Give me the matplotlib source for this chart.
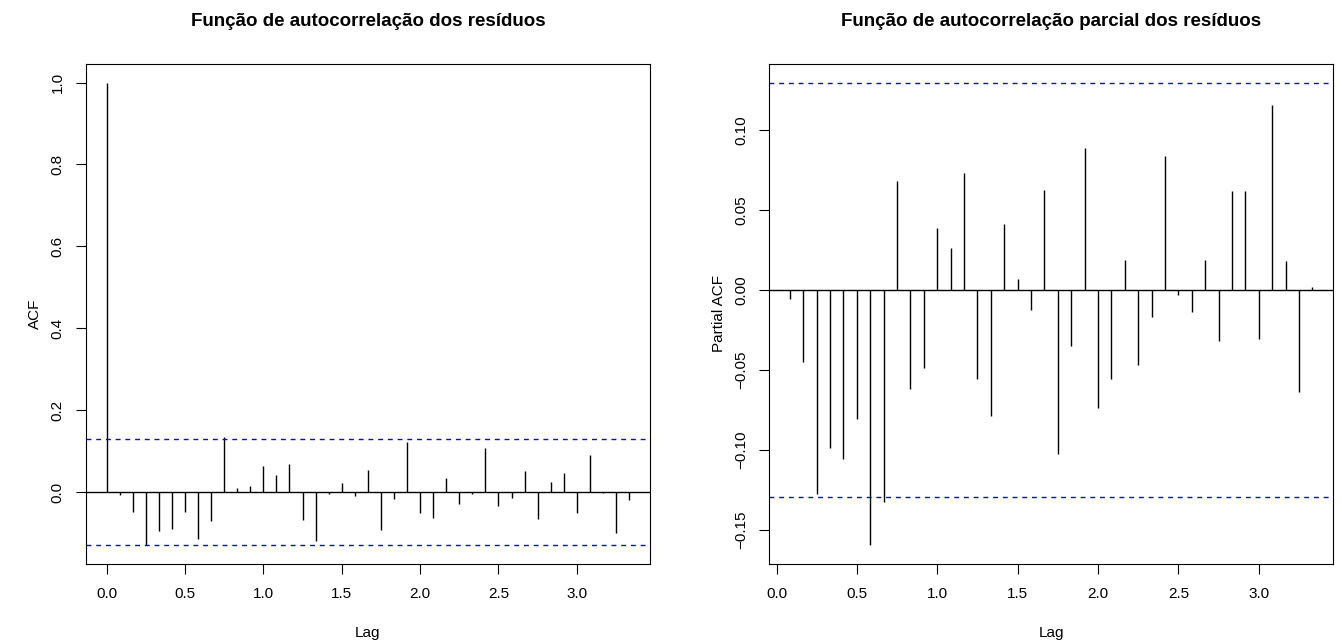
import numpy as np
import matplotlib
matplotlib.use("Agg")
import matplotlib.pyplot as plt

plt.rcParams['font.family'] = ['Liberation Sans', 'DejaVu Sans']

# ACF of residuals, lags 0..40 (monthly series -> lag in years)
acf_values = [1.0, -0.007, -0.047, -0.129, -0.095, -0.090, -0.049, -0.114, -0.069,
              0.136, 0.011, 0.016, 0.063, 0.041, 0.070, -0.067, -0.120, -0.004,
              0.022, -0.009, 0.055, -0.093, -0.017, 0.123, -0.051, -0.062, 0.034,
              -0.029, -0.005, 0.107, -0.034, -0.013, 0.052, -0.065, 0.025, 0.048,
              -0.051, 0.092, -0.002, -0.100, -0.019]
# PACF of residuals, lags 1..40
pacf_values = [-0.006, -0.045, -0.128, -0.099, -0.106, -0.081, -0.160, -0.1325,
               0.068, -0.062, -0.049, 0.0385, 0.026, 0.073, -0.056, -0.079, 0.041,
               0.0065, -0.0125, 0.0625, -0.103, -0.035, 0.089, -0.074, -0.056,
               0.0185, -0.047, -0.0167, 0.084, -0.003, -0.014, 0.0185, -0.032,
               0.062, 0.062, -0.031, 0.116, 0.018, -0.064, 0.002]
freq = 12
n_obs = 228
ci = 1.959964 / np.sqrt(n_obs)

acf_lags = np.arange(len(acf_values)) / freq
pacf_lags = np.arange(1, len(pacf_values) + 1) / freq

x_ticks = [0.0, 0.5, 1.0, 1.5, 2.0, 2.5, 3.0]
acf_yticks = [0.0, 0.2, 0.4, 0.6, 0.8, 1.0]
pacf_yticks = [-0.15, -0.10, -0.05, 0.0, 0.05, 0.10]

titles = ["Função de autocorrelação dos resíduos",
          "Função de autocorrelação parcial dos resíduos"]
ylabels = ["ACF", "Partial ACF"]

W, H = 1342, 641
fig = plt.figure(figsize=(W / 100, H / 100), dpi=100)

def rlim(lo, hi):
    r = hi - lo
    return lo - 0.04 * r, hi + 0.04 * r

panels = [
    (acf_lags, acf_values, acf_yticks, "{:.1f}", 85.7),
    (pacf_lags, pacf_values, pacf_yticks, "{:.2f}", 769.0),
]
for i, (lags, vals, yt, fmt, left_px) in enumerate(panels):
    ax = fig.add_axes([left_px / W, (H - 564) / H, 564.3 / W, 500 / H])
    vals = np.array(vals)
    ax.vlines(lags, 0, vals, color='black', lw=1.0)
    ax.axhline(0, color='black', lw=1.0)
    ax.axhline(ci, color='blue', lw=1.0, ls=(0, (3.5, 3.5)))
    ax.axhline(-ci, color='blue', lw=1.0, ls=(0, (3.5, 3.5)))
    ax.set_xlim(*rlim(lags.min(), lags.max()))
    ax.set_ylim(*rlim(min(vals.min(), -ci), max(vals.max(), ci)))
    ax.set_xticks(x_ticks)
    ax.set_xticklabels(["{:.1f}".format(t) for t in x_ticks])
    ax.set_yticks(yt)
    ax.set_yticklabels([fmt.format(t).replace("-", "\u2212") for t in yt],
                       rotation=90, va='center')
    ax.tick_params(direction='out', length=7.2, width=0.8, labelsize=11,
                   color='black')
    ax.tick_params(axis='x', pad=9)
    ax.tick_params(axis='y', pad=8)
    for s in ax.spines.values():
        s.set_linewidth(0.8)
    ax.set_title(titles[i], fontsize=13.5, fontweight='bold', pad=0,
                 y=(641 - 21) / 500 - (641 - 564) / 500, va='center')
    ax.set_xlabel("Lag", fontsize=11, labelpad=18)
    ax.set_ylabel(ylabels[i], fontsize=11, labelpad=6)

fig.savefig("out.png", dpi=100)
